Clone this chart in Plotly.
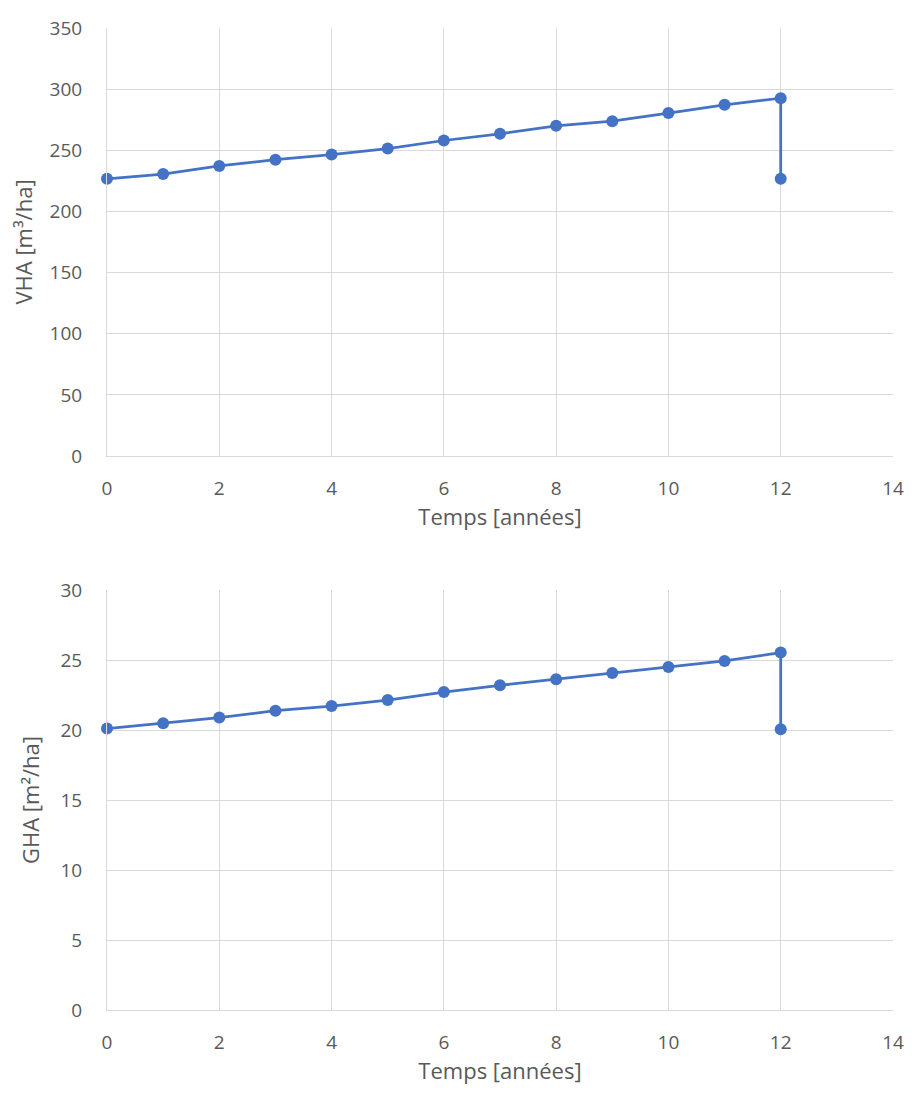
import plotly.graph_objects as go

temps = [0, 1, 2, 3, 4, 5, 6, 7, 8, 9, 10, 11, 12, 12]
vha = [226.7, 230.6, 237.2, 242.3, 246.5, 251.4, 258.0, 263.5, 270.0, 273.8, 280.4, 287.2, 292.6, 226.7]
gha = [20.1, 20.48, 20.89, 21.38, 21.71, 22.14, 22.71, 23.19, 23.62, 24.07, 24.5, 24.93, 25.53, 20.05]

x_title = "Temps [années]"
y1_title = "VHA [m³/ha]"
y2_title = "GHA [m²/ha]"

blue = "#4472C4"
grid = "#D9D9D9"
txt = "#595959"
font_family = "Open Sans, Liberation Sans, sans-serif"

fig = go.Figure()
fig.add_trace(go.Scatter(x=temps, y=vha, mode="lines+markers", xaxis="x", yaxis="y",
                         line=dict(color=blue, width=2.75), marker=dict(color=blue, size=12),
                         cliponaxis=False, showlegend=False))
fig.add_trace(go.Scatter(x=temps, y=gha, mode="lines+markers", xaxis="x2", yaxis="y2",
                         line=dict(color=blue, width=2.75), marker=dict(color=blue, size=12),
                         cliponaxis=False, showlegend=False))

tick_font = dict(size=19, color=txt, family=font_family)
title_font = dict(size=22, color=txt, family=font_family)

x_common = dict(showgrid=True, gridcolor=grid, gridwidth=1, zeroline=False,
                showline=True, linecolor=grid, linewidth=1, ticks="", automargin=False,
                tickfont=tick_font, range=[0, 14], dtick=2, ticklabelstandoff=15,
                title=dict(text=x_title, font=title_font, standoff=6))
y_common = dict(showgrid=True, gridcolor=grid, gridwidth=1, zeroline=False,
                showline=True, linecolor=grid, linewidth=1, ticks="", automargin=False,
                tickfont=tick_font, ticklabelstandoff=20)

# figure coordinates (page is offset by 8px body margin)
W, H = 896, 1077
L, R = 99, 885
T, B = 20, 1002
ph = B - T
top_dom = [(B - 448) / ph, 1.0]
bot_dom = [0.0, (B - 582) / ph]

fig.update_layout(
    width=W, height=H,
    margin=dict(l=L, r=W - R, t=T, b=H - B, autoexpand=False),
    paper_bgcolor="white", plot_bgcolor="white",
    font=dict(family=font_family, color=txt),
    xaxis=dict(domain=[0, 1], anchor="y", **x_common),
    yaxis=dict(domain=top_dom, anchor="x", range=[0, 350], dtick=50,
               title=dict(text=y1_title, font=title_font, standoff=16), **y_common),
    xaxis2=dict(domain=[0, 1], anchor="y2", **x_common),
    yaxis2=dict(domain=bot_dom, anchor="x2", range=[0, 30], dtick=5,
                title=dict(text=y2_title, font=title_font, standoff=14), **y_common),
)

fig.write_html("out.html")
